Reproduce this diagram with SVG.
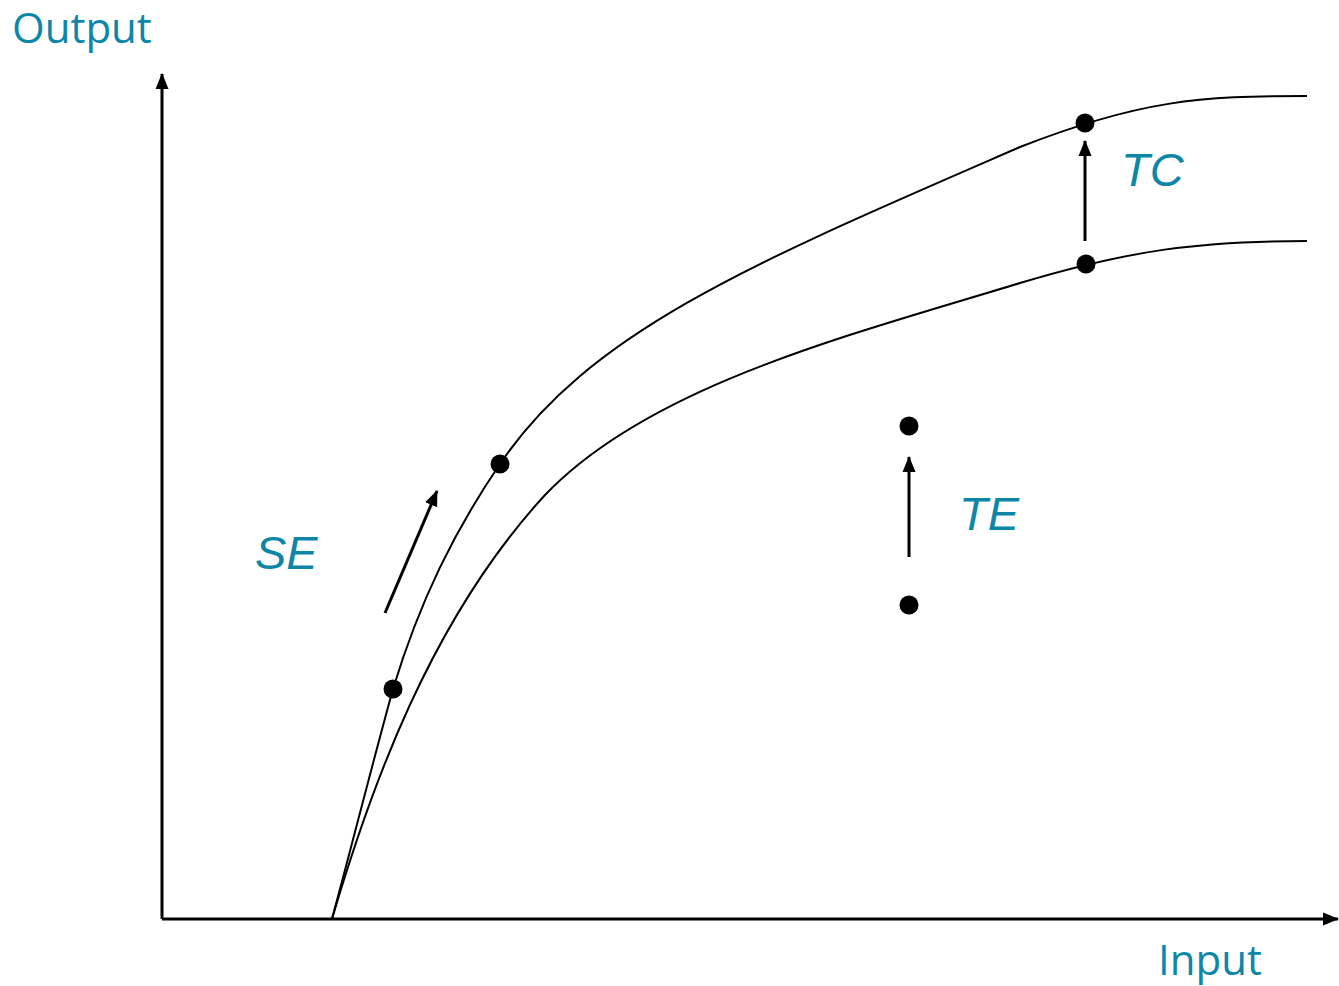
<svg xmlns="http://www.w3.org/2000/svg" width="1339" height="986" viewBox="0 0 1339 986">
<style>
.ax{fill:none;stroke:#000;stroke-width:3}
.cv{fill:none;stroke:#000;stroke-width:2}
.ar{fill:none;stroke:#000;stroke-width:3}
.dot{fill:#000}
.lab{font-family:"Open Sans","Liberation Sans",sans-serif;font-size:42px;fill:#0E86A8}
.it{font-family:"Liberation Sans",Arial,sans-serif;font-style:italic;font-size:47px;fill:#0E86A8}
</style>
<defs>
<marker id="ah" markerUnits="userSpaceOnUse" markerWidth="16" markerHeight="16" viewBox="0 0 16 16" refX="15" refY="8" orient="auto">
<path d="M0,1.5 L16,8 L0,14.5 Z" fill="#000"/>
</marker>
</defs>
<g id="axes">
<path class="ax" d="M162,919 L162,74" marker-end="url(#ah)"/>
<path class="ax" d="M162,919 L1338,919" marker-end="url(#ah)"/>
</g>
<g id="curves">
<path id="upper" class="cv" d="M332,919 C352,845 372,765 393,689 C420,600 455,530 500,464 C590,330 760,260 1020,147 C1140,100 1200,96 1307,96"/>
<path id="lower" class="cv" d="M332,919 C370,790 430,620 545,495 C650,385 850,335 1020,283 C1130,250 1200,241 1307,241"/>
</g>
<g id="connectors">
<path class="ar" d="M1085,241 L1085,141" marker-end="url(#ah)"/>
<path class="ar" d="M909,557 L909,457" marker-end="url(#ah)"/>
<path class="ar" d="M385,613 L437,491" marker-end="url(#ah)"/>
</g>
<g id="points">
<circle class="dot" cx="393" cy="689" r="9.5"/>
<circle class="dot" cx="500" cy="464" r="9.5"/>
<circle class="dot" cx="1085" cy="123" r="9.5"/>
<circle class="dot" cx="1086" cy="264" r="9.5"/>
<circle class="dot" cx="909" cy="426" r="9.5"/>
<circle class="dot" cx="909" cy="605" r="9.5"/>
</g>
<g id="labels">
<text class="lab" x="12" y="43">Output</text>
<text class="lab" x="1158" y="975">Input</text>
<text class="it" x="1121" y="186">TC</text>
<text class="it" x="959" y="530">TE</text>
<text class="it" x="255" y="569">SE</text>
</g>
</svg>
